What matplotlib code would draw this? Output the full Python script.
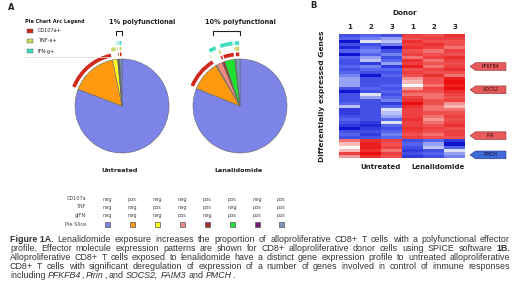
import numpy as np
import matplotlib
matplotlib.use("Agg")
import matplotlib.pyplot as plt
from matplotlib.patches import Wedge, Rectangle, Polygon
from matplotlib.colors import LinearSegmentedColormap

# ---- data ----
markers = ["CD107a", "TNF", "gIFN"]
# slice order = table order (neg/pos per marker)
slice_codes = [(0, 0, 0), (1, 0, 0), (0, 1, 0), (0, 0, 1),
               (1, 1, 0), (1, 0, 1), (0, 1, 1), (1, 1, 1)]
slice_colors = ["#7c84e8", "#ff9a10", "#ffff20", "#f08a80",
                "#a03028", "#20e030", "#702070", "#7898c0"]
untreated = [80.8, 16.0, 1.7, 0.2, 0.2, 0.2, 0.1, 0.8]
lenalidomide = [81.1, 10.3, 0.3, 2.2, 0.8, 3.6, 0.2, 1.5]
pie_titles = ["1% polyfunctional", "10% polyfunctional"]
pie_names = ["Untreated", "Lenalidomide"]
arc_labels = ["CD107a+", "TNF-a+", "IFN-g+"]
arc_colors = ["#d02a1e", "#c8d860", "#40dcc0"]

donors = ["1", "2", "3", "1", "2", "3"]
heat = np.array([
    [-6, -5, -6, 6, 5, 7],
    [-5, -4, -3, 5, 6, 6],
    [-9, -1, -2, 7, 5, 5],
    [-6, -6, -4, 6, 7, 5],
    [-8, -5, -9, 7, 6, 4],
    [-5, -4, -6, 5, 4, 6],
    [-9, -5, -4, 6, 5, 5],
    [-5, -3, -6, 4, 6, 7],
    [-6, -2, -5, 7, 4, 6],
    [-6, -7, -3, 6, 5, 5],
    [-5, -4, -7, 8, 4, 6],
    [-6, -5, -5, 5, 6, 7],
    [-5, -6, -6, 6, 5, 5],
    [-4, -9, -5, 5, 7, 4],
    [-3, -6, -6, 3, 5, 8],
    [-3, -6, -6, 2, 5, 9],
    [-3, -6, -5, 0, 4, 8],
    [-6, -5, -6, 3, 6, 9],
    [-9, -6, -5, 5, 5, 7],
    [-6, -1, -6, 4, 4, 6],
    [-6, -3, -5, 6, 4, 5],
    [-6, -6, -4, 7, 5, 6],
    [-5, -6, -7, 9, 5, 3],
    [-2, -6, -5, 7, 4, 2],
    [-7, -6, -1, 6, 4, 4],
    [-7, -6, -2, 6, 5, 5],
    [-6, -6, -3, 6, 4, 6],
    [-5, -6, -5, 7, 3, 5],
    [-6, -7, -1, 6, 4, 6],
    [-7, -8, -5, 6, 5, 7],
    [-9, -7, -6, 7, 6, 5],
    [-6, -6, -5, 6, 5, 6],
    [-5, -7, -4, 5, 4, 6],
    [-6, -6, -5, 6, 5, 5],
    [4, 7, 6, -6, -5, -7],
    [2, 8, 5, -5, -3, -9],
    [0, 8, 6, -6, -2, -5],
    [2, 7, 4, -7, -6, -1],
    [6, 9, 6, -6, -5, -3],
    [3, 7, 5, -7, -6, -4],
]) / 10.0
genes = ["PFKFB4", "SOCS2", "PIR", "PMCH"]
gene_rows = [10, 17.5, 32.3, 38.5]
gene_colors = ["#e85a5a", "#e85a5a", "#e85a5a", "#3f6ad8"]

caption = [
    [("Figure 1A.", "b")] + [(w, "n") for w in "Lenalidomide exposure increases the proportion of alloproliferative CD8+ T cells with a polyfunctional effector".split()],
    [(w, "n") for w in "profile. Effector molecule expression patterns are shown for CD8+ alloproliferative donor cells using SPICE software".split()] + [("1B.", "b")],
    [(w, "n") for w in "Alloproliferative CD8+ T cells exposed to lenalidomide have a distinct gene expression profile to untreated alloproliferative".split()],
    [(w, "n") for w in "CD8+ T cells with significant deregulation of expression of a number of genes involved in control of immune responses".split()],
    [("including", "n"), ("PFKFB4", "i"), (",", "g"), ("Pirin", "i"), (",", "g"), ("and", "n"),
     ("SOCS2,", "i"), ("FAIM3", "i"), ("and", "n"), ("PMCH", "i"), (".", "g")],
]

W, H = 520, 296
fig = plt.figure(figsize=(W / 100, H / 100), dpi=100)
fig.patch.set_facecolor("white")


def fx(x):
    return x / W


def fy(y):
    return 1 - y / H


TXT = "#222222"

# ---- panel A ----
fig.text(fx(8), fy(8), "A", fontsize=6, fontweight="bold", color=TXT, va="center")
fig.text(fx(25), fy(22), "Pie Chart Arc Legend", fontsize=3.6, fontweight="bold", color=TXT, va="center")
for i, (lab, col) in enumerate(zip(arc_labels, arc_colors)):
    y = 31 + 10 * i
    fig.patches.append(Rectangle((fx(27), fy(y + 1.8)), 6 / W, 3.6 / H, transform=fig.transFigure,
                                 facecolor=col, edgecolor="#555555", linewidth=0.3))
    fig.text(fx(38), fy(y), lab, fontsize=3.6, color=TXT, va="center")
fig.lines.append(plt.Line2D([fx(25), fx(110)], [fy(57), fy(57)], transform=fig.transFigure,
                            color="#dddddd", linewidth=0.6))

R = 47
L = 1.7
S = 2 * L * R
title_x = [142, 240]
for k, (vals, cx) in enumerate(zip([untreated, lenalidomide], [122, 240])):
    cy = 106
    ax = fig.add_axes([fx(cx - S / 2), fy(cy + S / 2), S / W, S / H])
    wedges, _ = ax.pie(vals, colors=slice_colors, startangle=90, counterclock=False,
                       wedgeprops=dict(edgecolor="#666666", linewidth=0.4))
    # marker arcs
    for m in range(3):
        r = 1.1 + 0.12 * m
        for wdg, code in zip(wedges, slice_codes):
            if code[m]:
                t1, t2 = wdg.theta1, wdg.theta2
                gap = min(0.8, (t2 - t1) * 0.2)
                ax.add_patch(Wedge((0, 0), r + 0.04, t1 + gap, t2 - gap, width=0.08,
                                   facecolor=arc_colors[m], edgecolor="none"))
    # bracket over polyfunctional slices
    poly = [w for w, c in zip(wedges, slice_codes) if sum(c) >= 2]
    a1 = min(w.theta1 for w in poly)
    a2 = max(w.theta2 for w in poly)
    xa, xb = 1.55 * np.cos(np.radians(a2)), 1.55 * np.cos(np.radians(a1))
    ax.plot([xa, xa, xb, xb], [1.5, 1.6, 1.6, 1.5], color="#222222", linewidth=0.8)
    ax.set_xlim(-L, L)
    ax.set_ylim(-L, L)
    ax.axis("off")
    fig.text(fx(title_x[k]), fy(22), pie_titles[k], fontsize=4.7, fontweight="bold", color=TXT,
             ha="center", va="center")
    fig.text(fx(cx - 2), fy(171), pie_names[k], fontsize=4.6, fontweight="bold", color=TXT,
             ha="center", va="center")

# expression table
row_y = [199, 207, 215, 224]
col_x = [107, 132, 157, 182, 207, 232, 257, 281]
for r, lab in enumerate(markers + ["Pie Slice"]):
    fig.text(fx(86), fy(row_y[r]), lab, fontsize=3.6, color="#444444", ha="right", va="center")
for j, code in enumerate(slice_codes):
    for r in range(3):
        fig.text(fx(col_x[j]), fy(row_y[r]), "pos" if code[r] else "neg", fontsize=3.6,
                 color="#444444", ha="center", va="center")
    fig.patches.append(Rectangle((fx(col_x[j] - 2.5), fy(row_y[3] + 2.5)), 5 / W, 5 / H,
                                 transform=fig.transFigure, facecolor=slice_colors[j],
                                 edgecolor="#555555", linewidth=0.5))

# ---- panel B ----
fig.text(fx(310), fy(6), "B", fontsize=6, fontweight="bold", color=TXT, va="center")
fig.text(fx(405), fy(13), "Donor", fontsize=5.2, fontweight="bold", color=TXT, ha="center", va="center")
cmap = LinearSegmentedColormap.from_list("bwr2", ["#0000c8", "#5464ee", "#ffffff", "#f05050", "#e80000"])
axh = fig.add_axes([fx(339), fy(158), 126 / W, 124 / H])
axh.imshow(heat, aspect="auto", cmap=cmap, vmin=-1, vmax=1, interpolation="nearest")
axh.set_xticks(range(len(donors)))
axh.set_xticklabels(donors, fontsize=5.0, fontweight="bold", color=TXT)
axh.xaxis.tick_top()
axh.tick_params(length=0, pad=3)
axh.set_yticks([])
for s in axh.spines.values():
    s.set_visible(False)
axh.set_ylabel("Differentially expressed Genes", fontsize=5.4, fontweight="bold", color=TXT, labelpad=10)
axh.text(1.5, len(heat) + 1.3, "Untreated", fontsize=5.0, fontweight="bold", color=TXT, ha="center", va="top")
axh.text(4.2, len(heat) + 1.3, "Lenalidomide", fontsize=5.0, fontweight="bold", color=TXT, ha="center", va="top")
# gene tags: left-pointing flags of equal width
for g, row, col in zip(genes, gene_rows, gene_colors):
    tip, body, end, hh = 5.74, 6.0, 7.45, 1.25
    axh.add_patch(Polygon([(tip, row), (body, row - hh), (end, row - hh), (end, row + hh), (body, row + hh)],
                          closed=True, facecolor=col, edgecolor="#8a3030" if col != "#3f6ad8" else "#203080",
                          linewidth=0.4, clip_on=False))
    axh.text((body + end) / 2, row, g, fontsize=3.4, color="#301010" if col != "#3f6ad8" else "#101030",
             ha="center", va="center", clip_on=False)

# ---- caption (justified) ----
renderer = fig.canvas.get_renderer()
fonts = {"n": dict(), "b": dict(fontweight="bold"), "i": dict(style="italic"), "g": dict()}
x0, x1 = 10, 510
for li, line in enumerate(caption):
    y = 239 + 9.1 * li
    items = []
    for word, st in line:
        t = fig.text(fx(x0), fy(y), word, fontsize=6.4, family="Liberation Sans", color="#333333",
                     va="center", **fonts[st])
        wpx = t.get_window_extent(renderer).width
        items.append((t, wpx, st))
    total = sum(w for _, w, _ in items)
    ngaps = sum(1 for _, _, st in items[1:] if st != "g")
    if li < len(caption) - 1:
        gap = (x1 - x0 - total) / ngaps
    else:
        gap = 2.4
    x = x0
    for i, (t, wpx, st) in enumerate(items):
        if i > 0 and st != "g":
            x += gap
        t.set_x(fx(x))
        x += wpx

fig.savefig("out.png", dpi=100)
